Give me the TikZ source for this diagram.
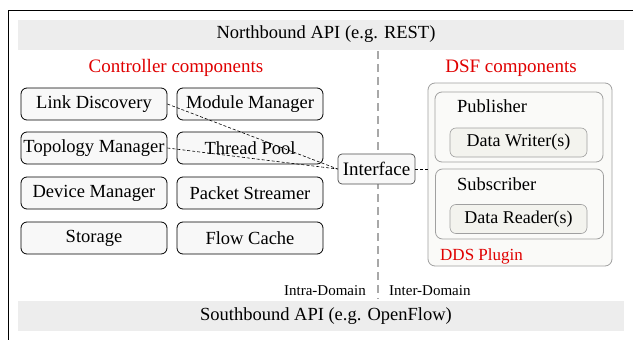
\documentclass[tikz,border=0pt]{standalone}
\usepackage{fontspec}
\setmainfont{Liberation Serif}
\begin{document}
\begin{tikzpicture}[x=1pt,y=-1pt,
  bar/.style={fill=barfill,draw=none,minimum width=606pt,minimum height=30pt,inner sep=0pt},
  bartext/.style={inner sep=0pt,font=\fontsize{18.5}{20}\selectfont},
  comp/.style={draw=black,line width=0.8pt,fill=compfill,rounded corners=6pt,minimum width=146pt,minimum height=32pt,inner sep=0pt,font=\fontsize{18.5}{20}\selectfont},
  dsfbox/.style={draw=dsfline,line width=0.8pt,fill=dsffill,rounded corners=7pt,inner sep=0pt},
  inbox/.style={draw=dsfline,line width=0.6pt,fill=infill,rounded corners=6pt,minimum width=137pt,minimum height=29pt,inner sep=0pt,font=\fontsize{18}{20}\selectfont},
  redtitle/.style={text=titlered,font=\fontsize{19}{21}\selectfont,inner sep=0pt},
  link/.style={draw=black,line width=0.6pt,dash pattern=on 3pt off 2pt},
  small/.style={font=\fontsize{15}{17}\selectfont,inner sep=0pt}]
\definecolor{barfill}{HTML}{EDEDED}
\definecolor{compfill}{HTML}{F8F8F8}
\definecolor{dsfline}{HTML}{A0A0A0}
\definecolor{dsffill}{HTML}{FAFAF8}
\definecolor{infill}{HTML}{F3F3EE}
\definecolor{titlered}{HTML}{E00000}
\definecolor{divgrey}{HTML}{A8A8A8}
\useasboundingbox (0,0) rectangle (633,340);
\fill[white] (0,0) rectangle (633,340);
% outer frame
\draw[line width=1.6pt] (8.5,340) -- (8.5,10.5) -- (633,10.5);
% API bars
\node[bar] (north) at (321,34.5) {};
\node[bartext] (northt) at (326,34.5) {Northbound API (e.g. REST)};
\node[bar] (south) at (321,316) {};
\node[bartext] (southt) at (326,316) {Southbound API (e.g. OpenFlow)};
% domain divider
\draw[divgrey,line width=1.2pt,dash pattern=on 8pt off 5pt] (378,51) -- (378,299);
\node[small,anchor=east] (intra) at (366,291) {Intra-Domain};
\node[small,anchor=west] (inter) at (389,291) {Inter-Domain};
% controller components
\node[redtitle] (ctitle) at (176,68) {Controller components};
\node[comp] (link) at (94,104) {Link Discovery};
\node[comp] (module) at (250,104) {Module Manager};
\node[comp] (topo) at (94,148) {Topology Manager};
\node[comp] (thread) at (250,148) {Thread Pool};
\node[comp] (device) at (94,193) {Device Manager};
\node[comp] (packet) at (250,193) {Packet Streamer};
\node[comp] (storage) at (94,238) {Storage};
\node[comp] (flow) at (250,238) {Flow Cache};
% interface
\node[draw=black!70,line width=0.7pt,fill=compfill,rounded corners=4pt,minimum width=77pt,minimum height=30pt,inner sep=0pt,font=\fontsize{19}{21}\selectfont] (iface) at (376.5,169) {Interface};
% DSF components
\node[redtitle] (dtitle) at (511,68) {DSF components};
\node[dsfbox,minimum width=184pt,minimum height=183pt] (dds) at (520,174.5) {};
\node[dsfbox,minimum width=168pt,minimum height=70pt] (pub) at (519,127) {};
\node[font=\fontsize{18.5}{20}\selectfont,anchor=west,inner sep=0pt] (pubt) at (457,106) {Publisher};
\node[inbox] (writer) at (518.5,142.5) {Data Writer(s)};
\node[dsfbox,minimum width=168pt,minimum height=70pt] (sub) at (519.5,204) {};
\node[font=\fontsize{18.5}{20}\selectfont,anchor=west,inner sep=0pt] (subt) at (457,184) {Subscriber};
\node[inbox] (reader) at (518.5,219) {Data Reader(s)};
\node[redtitle,anchor=west,font=\fontsize{17}{19}\selectfont] (plugin) at (440,256) {DDS Plugin};
% connectors
\draw[link] (link.east) -- (iface.west);
\draw[link] (topo.east) -- (iface.west);
\draw[link] (iface.east) -- (dds.west |- iface.east);
\end{tikzpicture}
\end{document}
